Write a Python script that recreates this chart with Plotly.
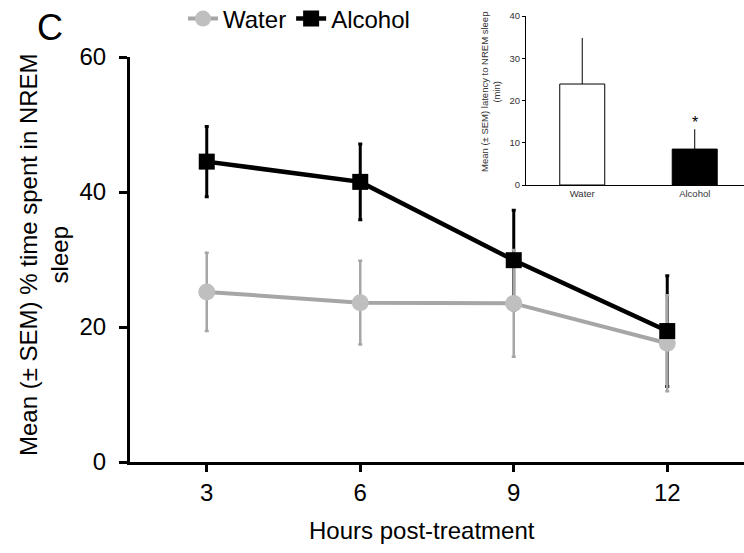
import plotly.graph_objects as go

# ---- data ----
hours = [3, 6, 9, 12]
water_mean = [25.2, 23.6, 23.5, 17.6]
water_sem = [5.8, 6.2, 7.9, 7.1]
alcohol_mean = [44.5, 41.5, 29.9, 19.4]
alcohol_sem = [5.2, 5.6, 7.4, 8.2]

inset_groups = ["Water", "Alcohol"]
inset_latency = [23.9, 8.5]
inset_sem = [10.9, 4.7]

y_ticks = [0, 20, 40, 60]
x_ticks = [3, 6, 9, 12]
inset_y_ticks = [0, 10, 20, 30, 40]

FONT = "Liberation Sans, Arial, sans-serif"
GRAY_LINE = "#A6A6A6"
GRAY_MARK = "#BFBFBF"

fig = go.Figure()

# alcohol error bars (drawn underneath the water series)
fig.add_trace(go.Scatter(
    x=hours, y=alcohol_mean, mode="markers",
    marker=dict(size=1, color="black", opacity=0),
    error_y=dict(type="data", array=alcohol_sem, color="black", thickness=3, width=2),
    showlegend=False, hoverinfo="skip"))

fig.add_trace(go.Scatter(
    x=hours, y=water_mean, mode="lines+markers", name="Water",
    line=dict(color=GRAY_LINE, width=4),
    marker=dict(symbol="circle", size=17, color=GRAY_MARK),
    error_y=dict(type="data", array=water_sem, color=GRAY_LINE, thickness=2.5, width=2)))

fig.add_trace(go.Scatter(
    x=hours, y=alcohol_mean, mode="lines+markers", name="Alcohol",
    line=dict(color="black", width=4.5),
    marker=dict(symbol="square", size=16, color="black")))

# inset bar chart
fig.add_trace(go.Bar(
    x=inset_groups, y=inset_latency, xaxis="x2", yaxis="y2", width=0.4,
    marker=dict(color=["white", "black"], line=dict(color="black", width=1)),
    error_y=dict(type="data", symmetric=False, array=inset_sem, arrayminus=[0, 0],
                 color="black", thickness=1, width=0),
    showlegend=False, hoverinfo="skip"))

W, H = 744, 553
PLOT_LEFT, PLOT_BOTTOM = 130, 462  # px
L = PLOT_LEFT
B = H - PLOT_BOTTOM
T, R = 0, 0
pw = W - L - R
ph = H - T - B


def px_x(x):
    return (x - PLOT_LEFT) / pw


def px_y(y):
    return (PLOT_BOTTOM - y) / ph


fig.update_layout(
    width=W, height=H,
    margin=dict(l=L, r=R, t=T, b=B, pad=0, autoexpand=False),
    paper_bgcolor="white", plot_bgcolor="rgba(0,0,0,0)",
    font=dict(family=FONT, size=24, color="black"),
    showlegend=True,
    legend=dict(orientation="h", x=px_x(183), xanchor="left", y=px_y(19), yanchor="middle",
                font=dict(size=24, family=FONT), bgcolor="rgba(0,0,0,0)",
                itemwidth=30, tracegroupgap=0),
    xaxis=dict(domain=[0, 1], range=[1.5, 13.5], tickvals=x_ticks,
               showline=True, linecolor="black", linewidth=3,
               ticks="outside", ticklen=7, tickwidth=3, tickcolor="black",
               showgrid=False, zeroline=False, tickfont=dict(size=24),
               anchor="y"),
    yaxis=dict(domain=[0, px_y(57)], range=[0, 60], tickvals=y_ticks,
               showline=True, linecolor="black", linewidth=3,
               ticks="outside", ticklen=8, tickwidth=3, tickcolor="black",
               showgrid=False, zeroline=False, tickfont=dict(size=24),
               ticklabelstandoff=8, anchor="x"),
    xaxis2=dict(domain=[px_x(526), 1], range=[-0.5, 1.438], anchor="y2",
                showline=True, linecolor="black", linewidth=1, ticks="",
                showgrid=False, zeroline=False,
                tickfont=dict(size=9.5, color="#333333")),
    yaxis2=dict(domain=[px_y(185), px_y(16)], range=[0, 40], tickvals=inset_y_ticks,
                anchor="x2", showline=True, linecolor="black", linewidth=1,
                ticks="outside", ticklen=3, tickwidth=1, tickcolor="black",
                showgrid=False, zeroline=False,
                tickfont=dict(size=9.5, color="#333333")),
    annotations=[
        dict(text="C", xref="paper", yref="paper", x=px_x(50), y=px_y(28),
             xanchor="center", yanchor="middle", showarrow=False,
             font=dict(size=36, family=FONT)),
        dict(text="Hours post-treatment", xref="paper", yref="paper",
             x=px_x(422), y=px_y(530), xanchor="center", yanchor="middle",
             showarrow=False, font=dict(size=24, family=FONT)),
        dict(text="Mean (± SEM) % time spent in NREM<br>sleep", xref="paper", yref="paper",
             x=px_x(44), y=px_y(255), xanchor="center", yanchor="middle", textangle=-90,
             showarrow=False, font=dict(size=24, family=FONT)),
        dict(text="Mean (± SEM) latency to NREM sleep<br>(min)", xref="paper", yref="paper",
             x=px_x(490), y=px_y(92), xanchor="center", yanchor="middle", textangle=-90,
             showarrow=False, font=dict(size=9.5, family=FONT, color="#333333")),
        dict(text="*", xref="x2", yref="y2", x=inset_groups[1], y=inset_latency[1] + inset_sem[1],
             xanchor="center", yanchor="bottom", yshift=-4, showarrow=False,
             font=dict(size=16, family=FONT)),
    ],
)

fig.write_html("out.html", config={"displayModeBar": False},
               post_script="document.body.style.margin='0px';")
